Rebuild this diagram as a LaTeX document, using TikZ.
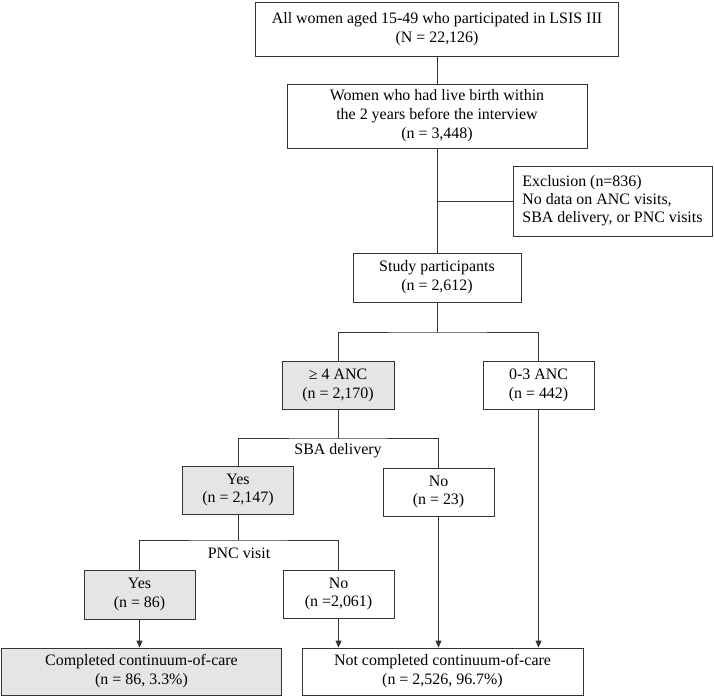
\documentclass[tikz,border=0pt]{standalone}
\usepackage{fontspec}
\setmainfont{Liberation Serif}
\usetikzlibrary{arrows.meta}
\begin{document}
\begin{tikzpicture}[x=1bp,y=-1bp,
  box/.style={draw=black!80, line width=0.9bp, fill=white, align=center, inner sep=0pt, font=\fontsize{16}{19}\selectfont},
  shaded/.style={box, fill=black!10},
  link/.style={draw=black!80, line width=0.9bp},
  arr/.style={link, -{Triangle[length=7bp,width=6bp]}},
  lbl/.style={font=\fontsize{16}{19}\selectfont, inner sep=0pt}]
\useasboundingbox (0,0) rectangle (714,697);
\node[box, minimum width=363bp, minimum height=54bp] (top) at (437,29) {All women aged 15-49 who participated in LSIS III\\(N = 22,126)};
\node[box, minimum width=300bp, minimum height=64bp] (second) at (437,116) {Women who had live birth within\\the 2 years before the interview\\(n = 3,448)};
\node[box, align=left, minimum width=199bp, minimum height=70bp, font=\fontsize{16}{18}\selectfont] (excl) at (612.5,201) {Exclusion (n=836)\\No data on ANC visits,\\SBA delivery, or PNC visits};
\node[box, minimum width=168bp, minimum height=49bp] (study) at (437,277.5) {Study participants\\(n = 2,612)};
\node[shaded, minimum width=112bp, minimum height=48bp] (anc4) at (338,385) {≥ 4 ANC\\(n = 2,170)};
\node[box, minimum width=111bp, minimum height=48bp] (anc03) at (538.5,385) {0-3 ANC\\(n = 442)};
\node[shaded, minimum width=111bp, minimum height=48bp] (sbayes) at (238,490) {Yes\\(n = 2,147)};
\node[box, minimum width=111bp, minimum height=48bp] (sbano) at (438.5,492) {No\\(n = 23)};
\node[shaded, minimum width=111bp, minimum height=49bp] (pncyes) at (139.5,594.5) {Yes\\(n = 86)};
\node[box, minimum width=111bp, minimum height=48bp] (pncno) at (338.5,594) {No\\(n =2,061)};
\node[shaded, minimum width=280bp, minimum height=47bp] (completed) at (141.5,671.5) {Completed continuum-of-care\\(n = 86, 3.3\%)};
\node[box, minimum width=281bp, minimum height=47bp] (notcomp) at (442.5,671.5) {Not completed continuum-of-care\\(n = 2,526, 96.7\%)};
\node[lbl] (sbalbl) at (338,451) {SBA delivery};
\node[lbl] (pnclbl) at (239,553) {PNC visit};
\draw[link] (top.south) -- (second.north);
\draw[link] (second.south) -- (study.north);
\coordinate (j1) at (second.south |- excl.west);
\draw[link] (j1) -- (excl.west);
\coordinate (s1) at (study.south |- 0,332);
\draw[link] (study.south) -- (s1);
\draw[link] (anc4.north) |- (s1) -| (anc03.north);
\coordinate (s2) at (anc4.south |- 0,438);
\draw[link] (anc4.south) -- (s2);
\draw[link] (sbayes.north) |- (s2) -| (sbano.north);
\coordinate (s3) at (sbayes.south |- 0,540);
\draw[link] (sbayes.south) -- (s3);
\draw[link] (pncyes.north) |- (s3) -| (pncno.north);
\draw[arr] (pncyes.south) -- (pncyes.south |- completed.north);
\draw[arr] (pncno.south) -- (pncno.south |- notcomp.north);
\draw[arr] (sbano.south) -- (sbano.south |- notcomp.north);
\draw[arr] (anc03.south) -- (anc03.south |- notcomp.north);
\end{tikzpicture}
\end{document}
